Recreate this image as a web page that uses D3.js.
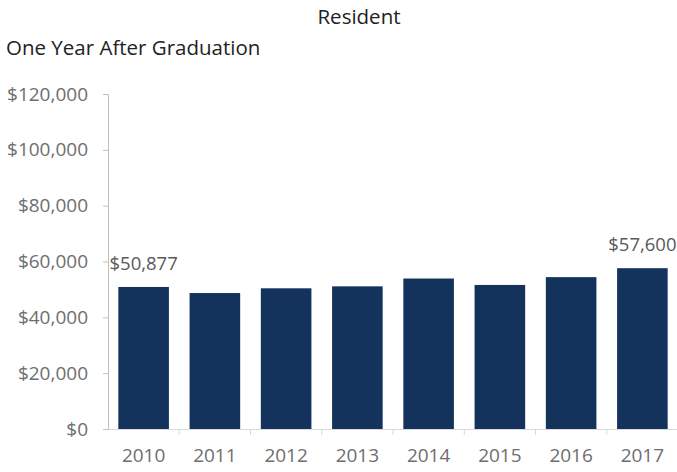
<!DOCTYPE html>
<html>
<head>
<meta charset="utf-8">
<script src="https://cdn.jsdelivr.net/npm/d3@7"></script>
<style>
  body { margin: 0; background: #fff; }
  text { font-family: "Open Sans", "Noto Sans", sans-serif; }
</style>
</head>
<body>
<div id="chart"></div>
<script>
// data
var years = ["2010", "2011", "2012", "2013", "2014", "2015", "2016", "2017"];
var salaries = [50877, 48700, 50400, 51100, 53900, 51600, 54400, 57600];
var labelled = ["2010", "2017"];
var yTicks = [0, 20000, 40000, 60000, 80000, 100000, 120000];

var svgWidth = 677, svgHeight = 472;
var margin = { top: 94, right: 0, bottom: 43, left: 108 };
var width = svgWidth - margin.left - margin.right + 1;
var height = svgHeight - margin.top - margin.bottom;

var svg = d3.select("#chart")
  .append("svg")
  .attr("width", svgWidth)
  .attr("height", svgHeight);

// titles
svg.append("text")
  .attr("x", 359).attr("y", 24)
  .attr("text-anchor", "middle")
  .attr("font-size", "20.5px")
  .attr("fill", "#222")
  .text("Resident");

svg.append("text")
  .attr("x", 6).attr("y", 55)
  .attr("font-size", "20.5px")
  .attr("fill", "#222")
  .text("One Year After Graduation");

var chart = svg.append("g")
  .attr("transform", `translate(${margin.left}, ${margin.top})`);

var x = d3.scaleBand()
  .domain(years)
  .range([0, width])
  .paddingInner(0.29)
  .paddingOuter(0.145);

var y = d3.scaleLinear()
  .domain([0, 120000])
  .range([height, 0]);

var fmt = d3.format("$,");

// y axis
var yAxis = chart.append("g")
  .call(d3.axisLeft(y).tickValues(yTicks).tickFormat(fmt).tickSize(5).tickPadding(15));
yAxis.select(".domain").attr("stroke", "#bfbfbf");
yAxis.selectAll(".tick line").attr("stroke", "#bfbfbf");
yAxis.selectAll(".tick text")
  .attr("font-size", "19px")
  .attr("fill", "#6e6e6e")
  .attr("font-family", "Open Sans, sans-serif");

// x axis with ticks between categories
var xAxis = chart.append("g")
  .attr("transform", `translate(0,${height})`)
  .call(d3.axisBottom(x).tickSize(0).tickPadding(20));
xAxis.select(".domain").attr("stroke", "#d9d9d9");
xAxis.selectAll(".tick text")
  .attr("font-size", "19px")
  .attr("fill", "#6e6e6e")
  .attr("font-family", "Open Sans, sans-serif");

var step = x.step();
chart.append("g").selectAll("line")
  .data(years.slice(1))
  .enter()
  .append("line")
  .attr("x1", d => x(d) - x.paddingInner() * step / 2)
  .attr("x2", d => x(d) - x.paddingInner() * step / 2)
  .attr("y1", height)
  .attr("y2", height + 6)
  .attr("stroke", "#d9d9d9");

// bars
chart.selectAll(".bar")
  .data(years)
  .enter()
  .append("rect")
  .attr("class", "bar")
  .attr("x", d => x(d))
  .attr("width", x.bandwidth())
  .attr("y", (d, i) => y(salaries[i]))
  .attr("height", (d, i) => height - y(salaries[i]))
  .attr("fill", "#14335c");

// data labels on first and last bar
chart.selectAll(".lbl")
  .data(years.filter(d => labelled.includes(d)))
  .enter()
  .append("text")
  .attr("class", "lbl")
  .attr("x", d => x(d) + x.bandwidth() / 2)
  .attr("y", d => y(salaries[years.indexOf(d)]) - 17)
  .attr("text-anchor", "middle")
  .attr("font-size", "18.5px")
  .attr("fill", "#595959")
  .text(d => fmt(salaries[years.indexOf(d)]));
</script>
</body>
</html>
